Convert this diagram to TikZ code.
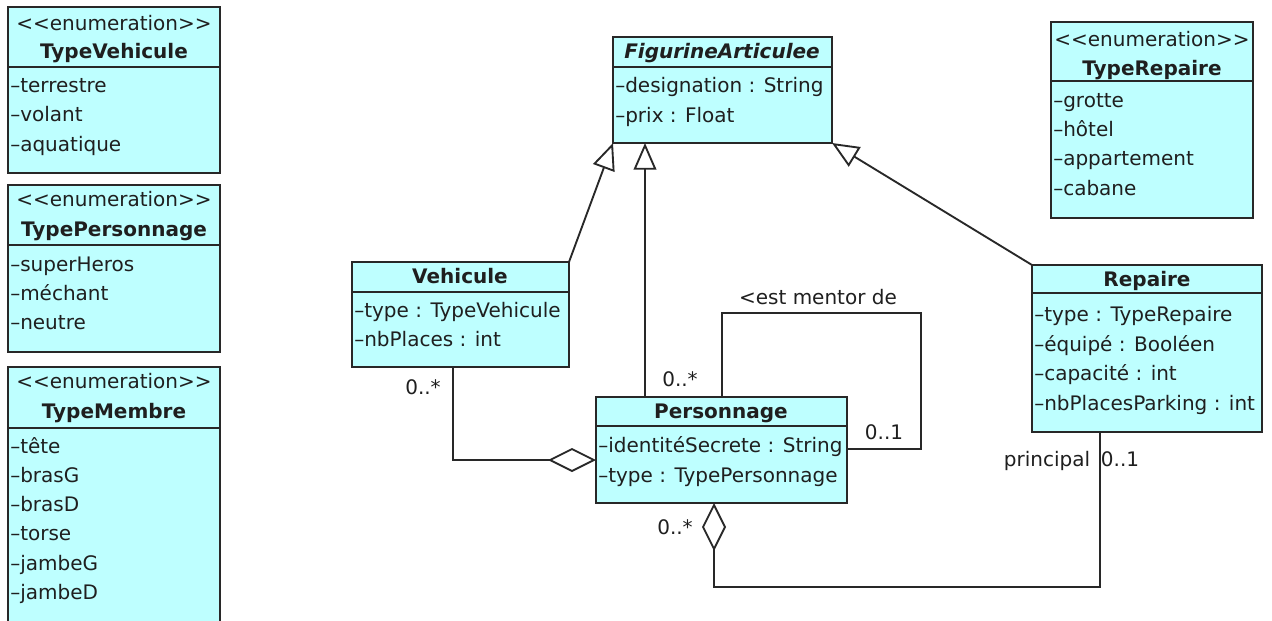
\documentclass[tikz,border=0pt]{standalone}
\usepackage{fontspec}
\setmainfont{DejaVu Sans}
\usetikzlibrary{arrows.meta}
\definecolor{umlfill}{RGB}{190,255,255}
\definecolor{umlline}{RGB}{40,40,40}
\newcounter{umltxt}
\newcommand\UMLbox[6]{%
  \node[classbox,minimum width={(#4-#2)*0.75pt},minimum height={(#5-#3)*0.75pt}] (#1) at ({(#2+#4)/2},{(#3+#5)/2}) {};
  \coordinate (#1sep) at (#2,#6);
  \draw[umlborder] (#1.west |- #1sep) -- (#1.east |- #1sep);}
\newcommand\UMLattr[3]{\stepcounter{umltxt}\node[attrtext] (a\theumltxt) at (#1,#2) {#3};}
\newcommand\UMLtitle[3]{\stepcounter{umltxt}\node[titletext] (a\theumltxt) at (#1,#2) {#3};}
\newcommand\UMLenum{<{}<enumeration>{}>}
\tikzset{
  classbox/.style={draw=umlline, fill=umlfill, line width=1.4pt, inner sep=0pt, outer sep=0pt},
  umlborder/.style={draw=umlline, line width=1.4pt},
  attrtext/.style={anchor=west, inner sep=0pt, font=\fontsize{15}{18}\selectfont, text height=10pt, text depth=1pt, text=black!88},
  titletext/.style={anchor=center, inner sep=0pt, font=\fontsize{15}{18}\selectfont, text height=10pt, text depth=1pt, text=black!88},
  gen/.style={draw=umlline, line width=1.4pt, -{Triangle[open,length=20pt,width=17pt]}},
  aggr/.style={draw=umlline, line width=1.4pt, -{Diamond[open,length=36pt,width=18pt]}},
  assoc/.style={draw=umlline, line width=1.4pt},
}
\begin{document}
\begin{tikzpicture}[x=0.75pt,y=-0.75pt]
\fill[white] (0,0) rectangle (1272,621);
\useasboundingbox (0,0) rectangle (1272,621);
% boxes
\UMLbox{tveh}{8}{7}{220}{173}{67}
\UMLbox{tpers}{8}{185}{220}{352}{245}
\UMLbox{tmem}{8}{367}{220}{624}{428}
\UMLbox{trep}{1051}{22}{1253}{218}{81}
\UMLbox{fig}{613}{37}{832}{143}{67}
\UMLbox{veh}{352}{262}{569}{367}{292}
\UMLbox{pers}{596}{397}{847}{503}{426}
\UMLbox{rep}{1032}{265}{1262}{432}{293}
% helper coordinates
\coordinate (gx) at (645,0);
\coordinate (av) at (453,460);
\coordinate (mA) at (722,313);
\coordinate (mB) at (921,449);
\coordinate (rA) at (714,587);
\coordinate (rB) at (1100,587);
% generalizations
\draw[gen] (veh.north east) -- (fig.south west);
\draw[gen] (pers.north -| gx) -- (fig.south -| gx);
\draw[gen] (rep.north west) -- (fig.south east);
% aggregations
\draw[aggr] (veh.south -| av) |- (pers.west |- av);
\draw[aggr] (rep.south -| rB) -- (rB) -- (rA) -- (pers.south -| rA);
% self association
\draw[assoc] (pers.north -| mA) -- (mA) -| (mB) -- (pers.east |- mB);
% labels
\UMLtitle{423}{388}{0..*}
\UMLtitle{680}{380}{0..*}
\UMLtitle{675}{528}{0..*}
\UMLtitle{884}{433}{0..1}
\UMLtitle{818}{298}{<est mentor de}
\UMLtitle{1047}{460}{principal}
\UMLtitle{1120}{460}{0..1}
% TypeVehicule
\UMLtitle{114}{25}{\UMLenum}
\UMLtitle{114}{52}{\bfseries TypeVehicule}
\UMLattr{10}{86}{–terrestre}
\UMLattr{10}{115}{–volant}
\UMLattr{10}{145}{–aquatique}
% TypePersonnage
\UMLtitle{114}{200}{\UMLenum}
\UMLtitle{114}{230}{\bfseries TypePersonnage}
\UMLattr{10}{265}{–superHeros}
\UMLattr{10}{294}{–méchant}
\UMLattr{10}{323}{–neutre}
% TypeMembre
\UMLtitle{114}{382}{\UMLenum}
\UMLtitle{114}{412}{\bfseries TypeMembre}
\UMLattr{10}{447}{–tête}
\UMLattr{10}{476}{–brasG}
\UMLattr{10}{505}{–brasD}
\UMLattr{10}{534}{–torse}
\UMLattr{10}{564}{–jambeG}
\UMLattr{10}{593}{–jambeD}
% TypeRepaire
\UMLtitle{1152}{40}{\UMLenum}
\UMLtitle{1152}{69}{\bfseries TypeRepaire}
\UMLattr{1053}{101}{–grotte}
\UMLattr{1053}{130}{–hôtel}
\UMLattr{1053}{159}{–appartement}
\UMLattr{1053}{189}{–cabane}
% FigurineArticulee
\UMLtitle{722}{52}{\bfseries\itshape FigurineArticulee}
\UMLattr{615}{86}{–designation : String}
\UMLattr{615}{116}{–prix : Float}
% Vehicule
\UMLtitle{460}{277}{\bfseries Vehicule}
\UMLattr{354}{311}{–type : TypeVehicule}
\UMLattr{354}{340}{–nbPlaces : int}
% Personnage
\UMLtitle{721}{412}{\bfseries Personnage}
\UMLattr{598}{446}{–identitéSecrete : String}
\UMLattr{598}{476}{–type : TypePersonnage}
% Repaire
\UMLtitle{1147}{280}{\bfseries Repaire}
\UMLattr{1034}{315}{–type : TypeRepaire}
\UMLattr{1034}{345}{–équipé : Booléen}
\UMLattr{1034}{374}{–capacité : int}
\UMLattr{1034}{404}{–nbPlacesParking : int}
\end{tikzpicture}
\end{document}
